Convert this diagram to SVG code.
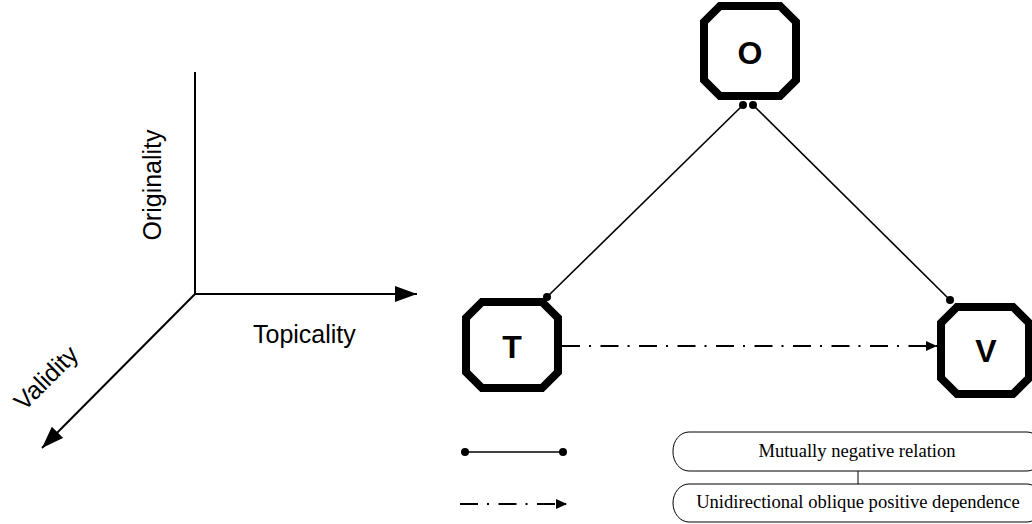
<svg xmlns="http://www.w3.org/2000/svg" width="1032" height="524" viewBox="0 0 1032 524">
<style>
.axis{stroke:#000;stroke-width:2;fill:none}
.ax{font-family:"Liberation Sans",Arial,sans-serif;font-size:25px;fill:#000}
.node{fill:#fff;stroke:#000;stroke-width:8;stroke-linejoin:miter}
.nl{font-family:"Liberation Sans",Arial,sans-serif;font-size:32px;font-weight:bold;text-anchor:middle;fill:#000}
.rel{stroke:#000;stroke-width:1.6;fill:none}
.dep{stroke:#000;stroke-width:2;fill:none;stroke-dasharray:18 9 2 9.5}
.leg{fill:#fff;stroke:#000;stroke-width:1}
.lt{font-family:"Liberation Serif","Times New Roman",serif;font-size:18.6px;text-anchor:middle;fill:#000}
</style>
<defs>
<marker id="bigArrow" viewBox="0 0 22 16" refX="22" refY="8" markerWidth="22" markerHeight="16" markerUnits="userSpaceOnUse" orient="auto">
<path d="M0,0 L22,8 L0,16 Z" fill="#000"/>
</marker>
<marker id="smallArrow" viewBox="0 0 11 10" refX="11" refY="5" markerWidth="11" markerHeight="10" markerUnits="userSpaceOnUse" orient="auto">
<path d="M0,0 L11,5 L0,10 Z" fill="#000"/>
</marker>
<marker id="dot" viewBox="0 0 8 8" refX="4" refY="4" markerWidth="8" markerHeight="8" markerUnits="userSpaceOnUse">
<circle cx="4" cy="4" r="4" fill="#000"/>
</marker>
</defs>
<rect width="1032" height="524" fill="#fff"/>

<g id="axes">
<line class="axis" x1="195" y1="72" x2="195" y2="295"/>
<line class="axis" x1="195" y1="294" x2="417" y2="294" marker-end="url(#bigArrow)"/>
<line class="axis" x1="195" y1="294" x2="42" y2="448" marker-end="url(#bigArrow)"/>
<text class="ax" x="161" y="185" text-anchor="middle" transform="rotate(-90 161 185)">Originality</text>
<text class="ax" x="253" y="343">Topicality</text>
<text class="ax" x="52" y="384" text-anchor="middle" transform="rotate(-45 52 384)">Validity</text>
</g>

<g id="connectors">
<line class="rel" x1="743" y1="105" x2="547" y2="297" marker-start="url(#dot)" marker-end="url(#dot)"/>
<line class="rel" x1="753" y1="105" x2="950" y2="300" marker-start="url(#dot)" marker-end="url(#dot)"/>
<line class="dep" x1="562" y1="346" x2="937" y2="346" marker-end="url(#smallArrow)"/>
</g>

<g id="node-O">
<polygon class="node" points="720,6 780,6 796,22 796,80 780,96 720,96 704,80 704,22"/>
<text class="nl" x="750" y="64">O</text>
</g>
<g id="node-T">
<polygon class="node" points="482,302 542,302 558,318 558,372 542,388 482,388 466,372 466,318"/>
<text class="nl" x="512" y="358">T</text>
</g>
<g id="node-V">
<polygon class="node" points="957,307 1013,307 1029,323 1029,378 1013,394 957,394 941,378 941,323"/>
<text class="nl" x="986" y="362">V</text>
</g>

<g id="legend">
<line class="rel" x1="465" y1="452" x2="563" y2="452" marker-start="url(#dot)" marker-end="url(#dot)"/>
<line class="dep" x1="460" y1="504" x2="567" y2="504" marker-end="url(#smallArrow)"/>
<line class="leg" x1="858" y1="471" x2="858" y2="484"/>
<g id="legend-relation">
<rect class="leg" x="673" y="432" width="370" height="39" rx="16" ry="19"/>
<text class="lt" x="857" y="457">Mutually negative relation</text>
</g>
<g id="legend-dependence">
<rect class="leg" x="673" y="484" width="370" height="38" rx="16" ry="19"/>
<text class="lt" x="858" y="508">Unidirectional oblique positive dependence</text>
</g>
</g>
</svg>
